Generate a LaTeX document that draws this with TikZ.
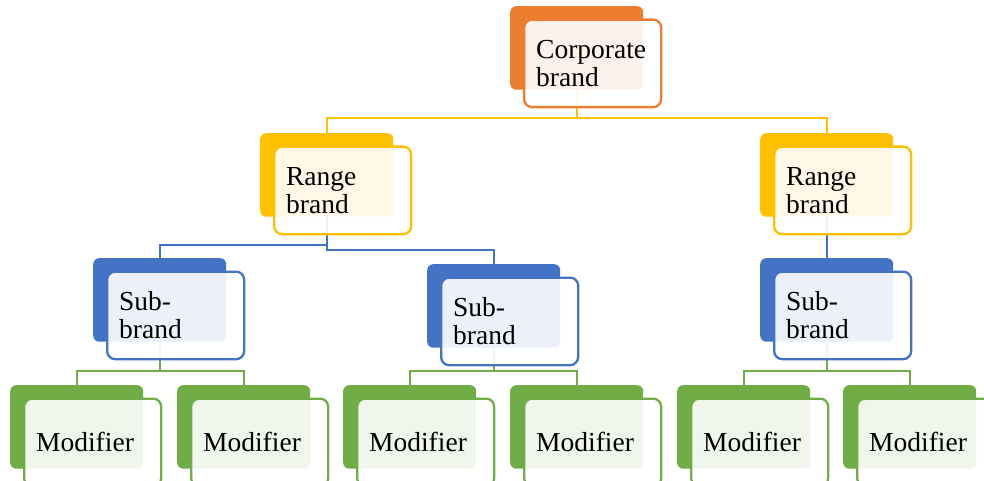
\documentclass[tikz,border=0pt]{standalone}
\usepackage{fontspec}
\setmainfont{Liberation Serif}
\usetikzlibrary{backgrounds}

\definecolor{corpC}{HTML}{ED7D31}
\definecolor{rangeC}{HTML}{FFC000}
\definecolor{subC}{HTML}{4472C4}
\definecolor{modC}{HTML}{70AD47}

\tikzset{
  backbox/.style={fill=#1, draw=none, rounded corners=6pt, minimum width=133pt,
    minimum height=83.5pt, anchor=north west, inner sep=0pt},
  frontbox/.style={fill=white, fill opacity=0.9, text opacity=1, draw=#1,
    line width=2.3pt, rounded corners=8pt, minimum width=137pt, minimum height=87.5pt,
    text width=113pt, inner xsep=12pt, inner ysep=0pt, align=left, anchor=north west,
    font=\fontsize{27.5}{28}\selectfont},
  link/.style={draw=#1, line width=2.4pt},
}

% a dark tab with a translucent labelled card laid over it
\newcommand\brandcard[5]{%
  \node[backbox=#4] (#1-b) at (#2,#3) {};
  \node[frontbox=#4] (#1) at (#2+13,#3+12.5) {#5};
}

\begin{document}
\begin{tikzpicture}[x=1pt,y=-1pt]
\useasboundingbox (0,0) rectangle (984,481);

\brandcard{corp}{510}{6}{corpC}{Corporate\\brand}

\brandcard{rangeL}{260}{133}{rangeC}{Range\\brand}
\brandcard{rangeR}{760}{133}{rangeC}{Range\\brand}

\brandcard{subL}{93}{258}{subC}{Sub-\\brand}
\brandcard{subM}{427}{264}{subC}{Sub-\\brand}
\brandcard{subR}{760}{258}{subC}{Sub-\\brand}

\brandcard{modA}{10}{385}{modC}{Modifier}
\brandcard{modB}{177}{385}{modC}{Modifier}
\brandcard{modC}{343}{385}{modC}{Modifier}
\brandcard{modD}{510}{385}{modC}{Modifier}
\brandcard{modE}{677}{385}{modC}{Modifier}
\brandcard{modF}{843}{385}{modC}{Modifier}

% bus levels of the elbow connectors
\coordinate (busCorp) at (0,118);
\coordinate (busSubL) at (0,245);
\coordinate (busSubM) at (0,250);
\coordinate (busMod) at (0,371);

\begin{scope}[on background layer]
  \draw[link=rangeC] (corp-b.south) -- (corp-b.south |- busCorp) -| (rangeL-b.north);
  \draw[link=rangeC] (corp-b.south) -- (corp-b.south |- busCorp) -| (rangeR-b.north);

  \draw[link=subC] (rangeL-b.south) -- (rangeL-b.south |- busSubL) -| (subL-b.north);
  \draw[link=subC] (rangeL-b.south) -- (rangeL-b.south |- busSubM) -| (subM-b.north);
  \draw[link=subC] (rangeR-b.south) -- (subR-b.north);

  \draw[link=modC] (subL-b.south) -- (subL-b.south |- busMod) -| (modA-b.north);
  \draw[link=modC] (subL-b.south) -- (subL-b.south |- busMod) -| (modB-b.north);
  \draw[link=modC] (subM-b.south) -- (subM-b.south |- busMod) -| (modC-b.north);
  \draw[link=modC] (subM-b.south) -- (subM-b.south |- busMod) -| (modD-b.north);
  \draw[link=modC] (subR-b.south) -- (subR-b.south |- busMod) -| (modE-b.north);
  \draw[link=modC] (subR-b.south) -- (subR-b.south |- busMod) -| (modF-b.north);
\end{scope}
\end{tikzpicture}
\end{document}
